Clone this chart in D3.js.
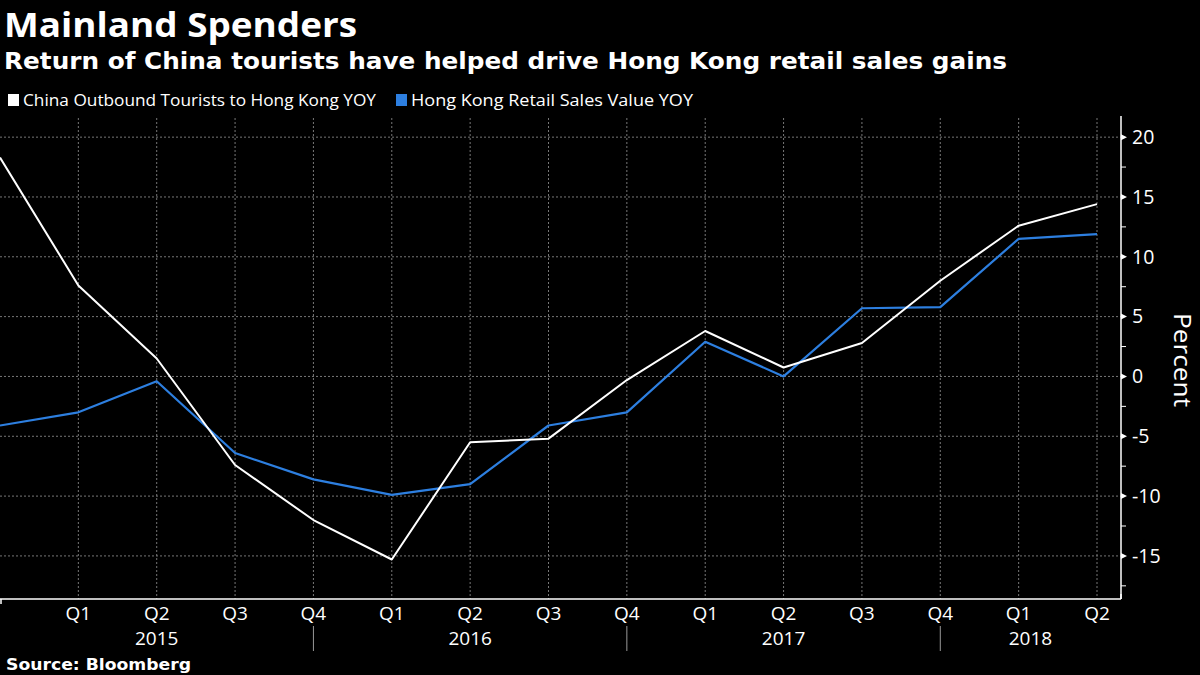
<!DOCTYPE html>
<html><head><meta charset="utf-8">
<script src="https://cdn.jsdelivr.net/npm/d3@7"></script>
<style>
html,body{margin:0;padding:0;background:#000;}
svg{display:block;}
</style></head>
<body>
<svg id="c" width="1200" height="675"></svg>
<script>
const quarters = ["Q4","Q1","Q2","Q3","Q4","Q1","Q2","Q3","Q4","Q1","Q2","Q3","Q4","Q1","Q2"];
const periods = ["2014Q4","2015Q1","2015Q2","2015Q3","2015Q4","2016Q1","2016Q2","2016Q3","2016Q4","2017Q1","2017Q2","2017Q3","2017Q4","2018Q1","2018Q2"];
const tourists = [18.3, 7.6, 1.5, -7.4, -12.0, -15.3, -5.5, -5.2, -0.3, 3.8, 0.75, 2.8, 8.0, 12.6, 14.4];
const retail = [-4.1, -3.0, -0.4, -6.4, -8.6, -9.9, -9.0, -4.1, -3.0, 2.9, 0.0, 5.7, 5.8, 11.5, 11.9];
const yTicks = [-15, -10, -5, 0, 5, 10, 15, 20];
const years = [{label:"2015", from:0, to:4}, {label:"2016", from:4, to:8}, {label:"2017", from:8, to:12}, {label:"2018", from:12, to:14.3}];
const yearSeps = [4, 8, 12];

const svg = d3.select("#c");
const font = "'Open Sans','Noto Sans',sans-serif";

const x = d3.scaleLinear().domain([0, 14]).range([0, 1097]);
const y = d3.scaleLinear().domain([-18.6, 21.6]).range([599, 118]);
const axisX = 1121;

// titles
svg.append("text").attr("x", 4).attr("y", 37).attr("fill", "#fff")
  .attr("font-family", "'Open Sans',sans-serif").attr("font-weight", 700).attr("font-size", 34)
  .attr("textLength", 353).attr("lengthAdjust", "spacingAndGlyphs")
  .text("Mainland Spenders");
svg.append("text").attr("x", 4).attr("y", 69).attr("fill", "#fff")
  .attr("font-family", "'DejaVu Sans',sans-serif").attr("font-weight", 700).attr("font-size", 23.5)
  .attr("textLength", 1003).attr("lengthAdjust", "spacingAndGlyphs")
  .text("Return of China tourists have helped drive Hong Kong retail sales gains");

// legend
const leg = [{t:"China Outbound Tourists to Hong Kong YOY", c:"#ffffff", x:8, w:353}, {t:"Hong Kong Retail Sales Value YOY", c:"#2d7fe0", x:396, w:282}];
leg.forEach(l => {
  svg.append("rect").attr("x", l.x).attr("y", 94).attr("width", 11).attr("height", 12).attr("fill", l.c);
  svg.append("text").attr("x", l.x + 15).attr("y", 106).attr("fill", "#fff")
    .attr("font-family", font).attr("font-size", 16.5)
    .attr("textLength", l.w).attr("lengthAdjust", "spacingAndGlyphs").text(l.t);
});

// gridlines
const grid = svg.append("g");
grid.selectAll("line.h").data(yTicks).join("line")
  .attr("x1", 0).attr("x2", axisX).attr("y1", d => y(d)).attr("y2", d => y(d))
  .attr("stroke", "#777").attr("stroke-width", 1).attr("stroke-dasharray", "2,2");
grid.selectAll("line.v").data(d3.range(1, 15)).join("line")
  .attr("x1", d => x(d)).attr("x2", d => x(d)).attr("y1", 118).attr("y2", 599)
  .attr("stroke", "#777").attr("stroke-width", 1).attr("stroke-dasharray", "2,2");

// right axis
const yAxis = d3.axisRight(y).tickValues(yTicks).tickSize(0).tickPadding(11).tickFormat(d => d < 0 ? "-" + Math.abs(d) : d);
const ga = svg.append("g").attr("transform", `translate(${axisX},0)`).call(yAxis);
ga.select(".domain").remove();
ga.selectAll("text").attr("fill", "#fff").attr("font-family", font).attr("font-size", 19.5);
const ag = svg.append("g");
ag.append("line").attr("x1", axisX).attr("x2", axisX).attr("y1", 116).attr("y2", 599).attr("stroke", "#fff").attr("stroke-width", 1.5);
ag.selectAll("path.maj").data(yTicks).join("path")
  .attr("d", d => `M${axisX},${y(d)-3}L${axisX+6},${y(d)}L${axisX},${y(d)+3}Z`).attr("fill", "#fff");
ag.selectAll("line.min").data(d3.range(-17.5, 21, 5)).join("line")
  .attr("x1", axisX).attr("x2", axisX + 5).attr("y1", d => y(d)).attr("y2", d => y(d))
  .attr("stroke", "#fff").attr("stroke-width", 1);
svg.append("text").attr("transform", `translate(1174,360) rotate(90)`).attr("text-anchor", "middle")
  .attr("fill", "#fff").attr("font-family", font).attr("font-size", 23)
  .attr("textLength", 94).attr("lengthAdjust", "spacingAndGlyphs").text("Percent");

// x axis
svg.append("line").attr("x1", 0).attr("x2", axisX).attr("y1", 599).attr("y2", 599).attr("stroke", "#fff").attr("stroke-width", 1.5);
svg.append("line").attr("x1", 1).attr("x2", 1).attr("y1", 599).attr("y2", 604).attr("stroke", "#fff").attr("stroke-width", 1.5);
svg.append("line").attr("x1", axisX).attr("x2", axisX).attr("y1", 594).attr("y2", 599).attr("stroke", "#fff").attr("stroke-width", 1.5);
const gx = svg.append("g");
gx.selectAll("text.q").data(quarters.slice(1)).join("text")
  .attr("x", (d, i) => x(i + 1)).attr("y", 620).attr("text-anchor", "middle")
  .attr("fill", "#fff").attr("font-family", font).attr("font-size", 19).text(d => d);
gx.selectAll("text.yr").data(years).join("text")
  .attr("x", d => x((d.from + d.to) / 2)).attr("y", 645).attr("text-anchor", "middle")
  .attr("fill", "#fff").attr("font-family", font).attr("font-size", 19).text(d => d.label);
gx.selectAll("line.sep").data(yearSeps).join("line")
  .attr("x1", d => x(d)).attr("x2", d => x(d)).attr("y1", 626).attr("y2", 651)
  .attr("stroke", "#999").attr("stroke-width", 1);

// lines
const line = d3.line().x((d, i) => x(i)).y(d => y(d));
svg.append("path").datum(retail).attr("d", line).attr("fill", "none").attr("stroke", "#2d7fe0").attr("stroke-width", 2.2).attr("stroke-linejoin", "round");
svg.append("path").datum(tourists).attr("d", line).attr("fill", "none").attr("stroke", "#fff").attr("stroke-width", 2).attr("stroke-linejoin", "round");

// source
svg.append("text").attr("x", 6).attr("y", 670).attr("fill", "#fff")
  .attr("font-family", "'DejaVu Sans',sans-serif").attr("font-weight", 700).attr("font-size", 16)
  .attr("textLength", 185).attr("lengthAdjust", "spacingAndGlyphs")
  .text("Source: Bloomberg");
</script>
</body></html>
